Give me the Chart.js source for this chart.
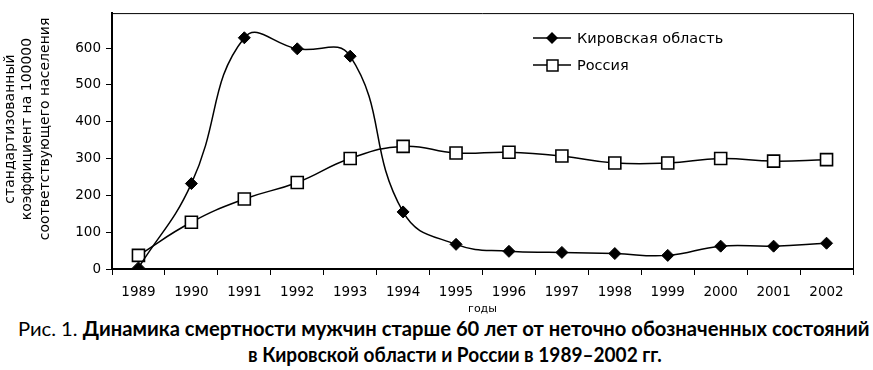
<!DOCTYPE html>
<html><head><meta charset="utf-8">
<script src="https://cdn.jsdelivr.net/npm/chart.js@4/dist/chart.umd.min.js"></script>
<style>
html,body{margin:0;padding:0;background:#fff;}
#wrap{position:relative;width:873px;height:370px;overflow:hidden;}
#c{position:absolute;left:0;top:0;}
.cap{position:absolute;white-space:nowrap;font-family:Lato,"Open Sans",sans-serif;font-size:20px;color:#000;transform-origin:0 0;line-height:24px;}
#cap1{left:18px;top:316px;}
#cap2{left:248px;top:342px;font-weight:bold;}
</style></head>
<body><div id="wrap">
<canvas id="c" width="873" height="316"></canvas>
<div class="cap" id="cap1">Рис. 1. <b>Динамика смертности мужчин старше 60 лет от неточно обозначенных состояний</b></div>
<div class="cap" id="cap2">в Кировской области и России в 1989–2002 гг.</div>
</div>
<script>
const years = ['1989','1990','1991','1992','1993','1994','1995','1996','1997','1998','1999','2000','2001','2002'];
const kirov = [3, 232, 628, 598, 578, 155, 67, 48, 45, 42, 37, 62, 62, 70];
const russia = [37, 127, 190, 235, 300, 333, 315, 317, 307, 288, 288, 300, 293, 297];
const yTicks = [0, 100, 200, 300, 400, 500, 600];
const seriesNames = ['Кировская область', 'Россия'];
const yTitle = ['стандартизованный', 'коэффициент на 100000', 'соответствующего населения'];
const xTitle = 'годы';

function fit(id, w) {
  const el = document.getElementById(id);
  el.style.transform = 'scaleX(' + (w / el.scrollWidth) + ')';
}
fit('cap1', 852);
fit('cap2', 414);

const frame = {
  id: 'frame',
  afterDraw(chart) {
    const {ctx, chartArea: a} = chart;
    ctx.save();
    ctx.strokeStyle = '#000';
    ctx.lineWidth = 1;
    ctx.beginPath();
    ctx.moveTo(a.left, a.top + 0.5); ctx.lineTo(a.right + 0.5, a.top + 0.5);
    ctx.lineTo(a.right + 0.5, a.bottom);
    ctx.stroke();
    // y title
    ctx.save();
    ctx.font = '14px "DejaVu Sans"';
    ctx.textAlign = 'center';
    ctx.textBaseline = 'middle';
    ctx.fillStyle = '#000';
    const xs = [10, 27.5, 45];
    yTitle.forEach((t, i) => {
      ctx.save();
      ctx.translate(xs[i], 129);
      ctx.rotate(-Math.PI / 2);
      ctx.fillText(t, 0, 0);
      ctx.restore();
    });
    ctx.restore();
    // legend
    const lx = 533, items = [38, 65];
    ctx.font = '14.5px "DejaVu Sans"';
    ctx.textBaseline = 'middle';
    items.forEach((y, i) => {
      ctx.strokeStyle = '#000';
      ctx.lineWidth = 1.5;
      ctx.beginPath(); ctx.moveTo(lx, y); ctx.lineTo(lx + 38, y); ctx.stroke();
      if (i === 0) {
        ctx.beginPath(); ctx.moveTo(lx + 19, y - 6); ctx.lineTo(lx + 25, y); ctx.lineTo(lx + 19, y + 6); ctx.lineTo(lx + 13, y); ctx.closePath();
        ctx.fillStyle = '#000'; ctx.fill();
      } else {
        ctx.fillStyle = '#fff'; ctx.fillRect(lx + 14, y - 5, 11, 11);
        ctx.lineWidth = 1.5; ctx.strokeRect(lx + 14, y - 5, 11, 11);
      }
      ctx.fillStyle = '#000';
      ctx.fillText(seriesNames[i], lx + 44, y + 1);
    });
    ctx.restore();
  }
};

new Chart(document.getElementById('c'), {
  type: 'line',
  data: {
    labels: years,
    datasets: [
      {label: seriesNames[0], data: kirov, borderColor: '#000', backgroundColor: '#000', borderWidth: 1.5,
       pointStyle: 'rectRot', pointRadius: 6, pointBorderWidth: 1, tension: 0.45},
      {label: seriesNames[1], data: russia, borderColor: '#000', backgroundColor: '#fff', borderWidth: 1.5,
       pointStyle: 'rect', pointRadius: 8.5, pointBorderWidth: 1.6, tension: 0.45}
    ]
  },
  options: {
    responsive: false, animation: false,
    layout: {padding: {left: 0, right: 20, top: 10, bottom: 0}},
    plugins: {legend: {display: false}, tooltip: {enabled: false}},
    scales: {
      x: {
        offset: true,
        grid: {offset: true, drawOnChartArea: false, color: '#000', tickLength: 6, lineWidth: 1},
        border: {color: '#000', width: 2},
        ticks: {color: '#000', font: {family: 'DejaVu Sans', size: 13.5}, padding: 9, maxRotation: 0, autoSkip: false},
        title: {display: true, text: xTitle, color: '#000', font: {family: 'DejaVu Sans', size: 11}, padding: {top: 0, bottom: 0}},
        afterFit(s) { s.height = 47; }
      },
      y: {
        min: 0, max: 695,
        grid: {drawOnChartArea: false, color: '#000', tickLength: 6},
        border: {color: '#000', width: 2},
        afterBuildTicks(s) { s.ticks = yTicks.map(v => ({value: v})); },
        ticks: {color: '#000', font: {family: 'DejaVu Sans', size: 13.5}, padding: 5},
        afterFit(s) { s.width = 112; }
      }
    }
  },
  plugins: [frame]
});
</script>
</body></html>
